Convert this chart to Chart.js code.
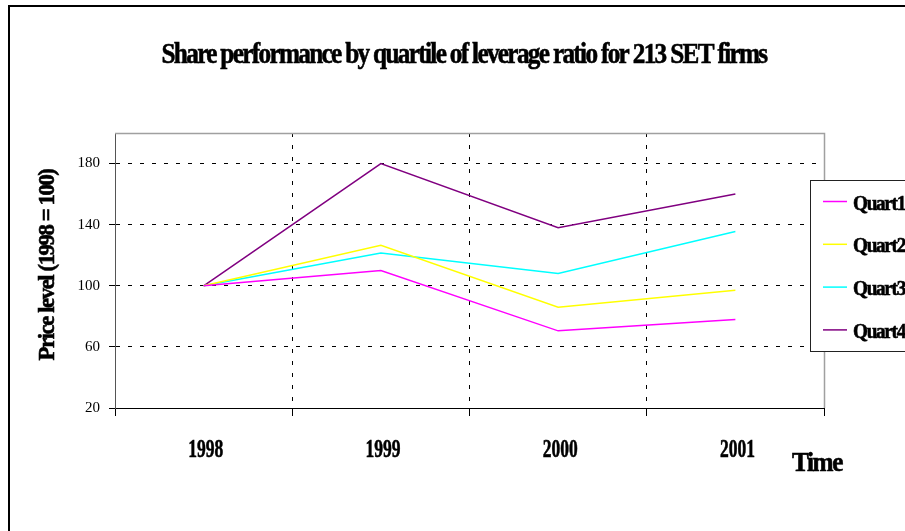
<!DOCTYPE html>
<html><head><meta charset="utf-8">
<script src="https://cdn.jsdelivr.net/npm/chart.js@4"></script>
<style>html,body{margin:0;padding:0;background:#fff;overflow:hidden}#wrap{width:905px;height:531px;position:relative}</style>
</head><body><div id="wrap"><canvas id="c" width="905" height="531"></canvas></div>
<script>
const categories = ['1998', '1999', '2000', '2001'];
const seriesNames = ['Quart1', 'Quart2', 'Quart3', 'Quart4'];
const quart1 = [100, 110, 70.5, 78];
const quart2 = [100, 126.5, 86, 97];
const quart3 = [100, 121.5, 108, 135.5];
const quart4 = [100, 180, 138, 160];
const yTicks = [20, 60, 100, 140, 180];
const chartTitle = 'Share performance by quartile of leverage ratio for 213 SET firms';
const yTitle = 'Price level (1998 = 100)';
const xTitle = 'Time';

const seriesColors = ['#FF00FF', '#FFFF00', '#00FFFF', '#800080'];
const SERIF = "'Liberation Serif', 'Times New Roman', serif";

function textFit(ctx, text, x, y, font, maxW, align, spacing) {
  ctx.save();
  ctx.font = font;
  if (spacing) ctx.letterSpacing = spacing;
  ctx.fillStyle = '#000';
  ctx.strokeStyle = '#000';
  ctx.lineWidth = 0.6;
  ctx.textAlign = align || 'left';
  ctx.textBaseline = 'alphabetic';
  ctx.fillText(text, x, y, maxW);
  ctx.strokeText(text, x, y, maxW);
  ctx.restore();
}
function textScaled(ctx, text, x, y, font, sx, align) {
  ctx.save();
  ctx.font = font;
  ctx.fillStyle = '#000';
  ctx.strokeStyle = '#000';
  ctx.lineWidth = 0.6;
  ctx.textAlign = align || 'center';
  ctx.textBaseline = 'alphabetic';
  ctx.translate(x, y);
  ctx.scale(sx, 1);
  ctx.fillText(text, 0, 0);
  ctx.strokeText(text, 0, 0);
  ctx.restore();
}

const decor = {
  id: 'decor',
  beforeDraw(chart) {
    const ctx = chart.ctx;
    ctx.save();
    ctx.fillStyle = '#fff';
    ctx.fillRect(0, 0, chart.width, chart.height);
    ctx.restore();
  },
  afterDraw(chart) {
    const ctx = chart.ctx;
    const ca = chart.chartArea;
    // plot area top / right border
    ctx.save();
    ctx.strokeStyle = '#a0a0a0';
    ctx.lineWidth = 1.5;
    ctx.beginPath();
    ctx.moveTo(ca.left, ca.top + 0.5);
    ctx.lineTo(ca.right + 0.5, ca.top + 0.5);
    ctx.lineTo(ca.right + 0.5, ca.bottom);
    ctx.stroke();
    ctx.restore();

    // outer frame (left & top visible)
    ctx.save();
    ctx.strokeStyle = '#000';
    ctx.lineWidth = 2;
    ctx.beginPath();
    ctx.moveTo(9, chart.height + 2);
    ctx.lineTo(9, 6);
    ctx.lineTo(chart.width + 2, 6);
    ctx.stroke();
    ctx.restore();

    // title
    textFit(ctx, chartTitle, 464, 63, 'bold 30px ' + SERIF, 605, 'center', '-2px');

    // y axis title
    ctx.save();
    ctx.translate(54, 265);
    ctx.rotate(-Math.PI / 2);
    textFit(ctx, yTitle, 0, 0, 'bold 24px ' + SERIF, 191, 'center', '-1.5px');
    ctx.restore();

    // x tick labels via x scale
    const xs = chart.scales.x;
    categories.forEach((lab, i) => {
      const px = xs.getPixelForValue(i);
      textScaled(ctx, lab, px + 2, 457, 'bold 25px ' + SERIF, 0.7, 'center');
    });

    // x axis title
    textFit(ctx, xTitle, 792, 471, 'bold 27px ' + SERIF, 50, 'left', '-1.5px');

    // legend
    ctx.save();
    ctx.fillStyle = '#fff';
    ctx.fillRect(810.5, 180.5, 130, 171);
    ctx.strokeStyle = '#222';
    ctx.lineWidth = 1;
    ctx.strokeRect(810.5, 180.5, 130, 171);
    ctx.restore();
    chart.data.datasets.forEach((ds, i) => {
      const y = 201.5 + i * 42.8;
      ctx.save();
      ctx.strokeStyle = ds.borderColor;
      ctx.lineWidth = 1.5;
      ctx.beginPath();
      ctx.moveTo(823, y);
      ctx.lineTo(847, y);
      ctx.stroke();
      ctx.restore();
      textFit(ctx, ds.label, 853, y + 8, 'bold 22px ' + SERIF, 52, 'left', '-1.5px');
    });
  }
};

const seriesData = [quart1, quart2, quart3, quart4];
const datasets = seriesNames.map((name, i) => ({
  label: name,
  data: seriesData[i],
  borderColor: seriesColors[i],
  backgroundColor: seriesColors[i],
  borderWidth: 1.5,
  pointRadius: 0,
  pointHoverRadius: 0,
  tension: 0,
  fill: false
}));

const transparent = 'rgba(0,0,0,0)';

new Chart(document.getElementById('c'), {
  type: 'line',
  data: { labels: categories, datasets },
  options: {
    responsive: false,
    animation: false,
    devicePixelRatio: 1,
    layout: { padding: { left: 75, right: 81, top: 133, bottom: 103 } },
    plugins: { legend: { display: false }, title: { display: false }, tooltip: { enabled: false } },
    scales: {
      x: {
        type: 'category',
        offset: true,
        afterFit: s => { s.height = 20; },
        grid: {
          offset: true,
          color: c => (c.index >= 1 && c.index <= 3) ? '#000' : transparent,
          tickColor: '#000',
          tickLength: 8,
          lineWidth: 1
        },
        border: { display: true, color: '#000', width: 1, dash: [4, 8] },
        ticks: { display: false }
      },
      y: {
        type: 'linear',
        min: 20,
        max: 200,
        afterFit: s => { s.width = 40; },
        afterBuildTicks: s => { s.ticks = yTicks.map(v => ({ value: v })); },
        grid: {
          color: c => (c.tick && c.tick.value > 20) ? '#000' : transparent,
          tickColor: '#000',
          tickLength: 6,
          lineWidth: 1
        },
        border: { display: true, color: '#555', width: 1, dash: [4, 8] },
        ticks: {
          color: '#000',
          padding: 9,
          font: { family: SERIF, size: 15, weight: 'normal' }
        }
      }
    }
  },
  plugins: [decor]
});
</script>
</body></html>
